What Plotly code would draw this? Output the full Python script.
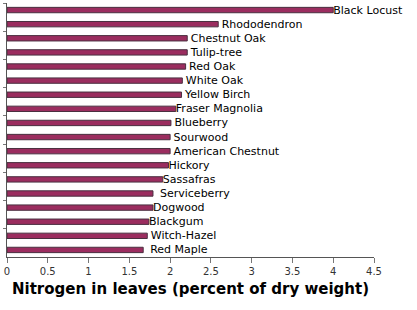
import plotly.graph_objects as go

species = ["Black Locust", "Rhododendron", "Chestnut Oak", "Tulip-tree", "Red Oak",
           "White Oak", "Yellow Birch", "Fraser Magnolia", "Blueberry", "Sourwood",
           "American Chestnut", "Hickory", "Sassafras", "Serviceberry", "Dogwood",
           "Blackgum", "Witch-Hazel", "Red Maple"]
labels = ["Black Locust", " Rhododendron", " Chestnut Oak", " Tulip-tree", " Red Oak",
          " White Oak", " Yellow Birch", "Fraser Magnolia", " Blueberry", " Sourwood",
          " American Chestnut", "Hickory", "Sassafras", "  Serviceberry", "Dogwood",
          "Blackgum", " Witch-Hazel", "  Red Maple"]
nitrogen = [4.0, 2.59, 2.21, 2.21, 2.19, 2.15, 2.14, 2.07, 2.01, 2.0,
            2.0, 1.98, 1.91, 1.79, 1.79, 1.74, 1.72, 1.67]
x_ticks = [0, 0.5, 1, 1.5, 2, 2.5, 3, 3.5, 4, 4.5]

fig = go.Figure(go.Bar(
    x=nitrogen, y=species, orientation="h",
    text=labels, textposition="outside", constraintext="none", cliponaxis=False,
    textfont=dict(family="DejaVu Sans", size=11, color="#000000"),
    marker=dict(color="#9b2d5f", line=dict(color="#4a3040", width=1)),
    width=0.38,
))

fig.update_layout(
    width=417, height=310,
    margin=dict(l=7, r=43, t=3, b=53),
    paper_bgcolor="white", plot_bgcolor="white",
    showlegend=False,
    font=dict(family="DejaVu Sans", size=11, color="#333333"),
    xaxis=dict(
        range=[0, 4.5], tickvals=x_ticks, ticktext=[str(t) for t in x_ticks],
        showgrid=False, zeroline=False, showline=True, linecolor="#555555", linewidth=1,
        ticks="outside", ticklen=5, tickcolor="#777777",
        tickfont=dict(family="DejaVu Sans", size=10, color="#333333"),
        title=dict(text="Nitrogen in leaves (percent of dry weight)",
                   font=dict(family="DejaVu Sans", size=15, color="#000000", weight="bold"),
                   standoff=7),
    ),
    yaxis=dict(
        autorange="reversed", showticklabels=False, showgrid=False, zeroline=False,
        showline=True, linecolor="#555555", linewidth=1,
        ticks="outside", ticklen=3, tickcolor="#777777", tickson="boundaries",
    ),
)

fig.write_html("out.html")
